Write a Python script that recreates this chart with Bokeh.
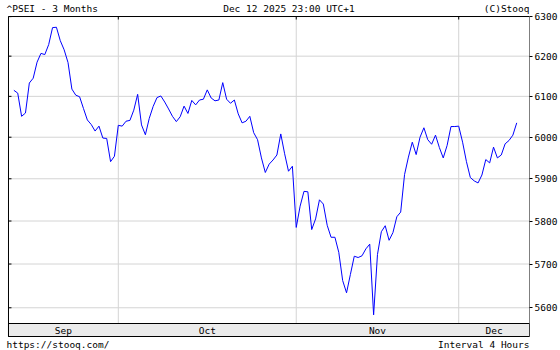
import math
from bokeh.plotting import figure
from bokeh.models import FixedTicker, BasicTickFormatter, Range1d
from bokeh.embed import file_html
from bokeh.resources import INLINE
from bokeh.core.properties import value

# ---- data (4-hour bars, ^PSEI, last 3 months) ----
closes = [
    6115, 6108, 6051, 6059, 6133, 6145, 6185, 6207, 6204, 6229,
    6272, 6273, 6239, 6216, 6184, 6118, 6103, 6099, 6070, 6042,
    6031, 6015, 6027, 5998, 5997, 5941, 5954, 6029, 6027, 6039,
    6041, 6066, 6105, 6030, 6006, 6046, 6075, 6097, 6101, 6086,
    6069, 6051, 6038, 6050, 6076, 6058, 6090, 6079, 6091, 6093,
    6116, 6096, 6089, 6091, 6134, 6093, 6083, 6091, 6057, 6035,
    6039, 6051, 6011, 5994, 5950, 5915, 5935, 5945, 5957, 6008,
    5960, 5918, 5930, 5785, 5835, 5870, 5869, 5780, 5805, 5850,
    5840, 5790, 5762, 5762, 5727, 5662, 5634, 5676, 5718, 5715,
    5719, 5735, 5746, 5584, 5722, 5775, 5789, 5755, 5773, 5810,
    5821, 5910, 5952, 5988, 5958, 6000, 6023, 5994, 5983, 6005,
    5975, 5950, 5980, 6026, 6026, 6027, 5988, 5941, 5903, 5895,
    5890, 5909, 5946, 5938, 5976, 5950, 5957, 5984, 5992, 6005,
    6035,
]
bars = list(range(len(closes)))
month_labels = ["Sep", "Oct", "Nov", "Dec"]
month_starts = [27, 73, 115]          # bar index of the first bar of Oct, Nov, Dec
y_ticks = [5600, 5700, 5800, 5900, 6000, 6100, 6200, 6300]

title_left = "^PSEI - 3 Months"
title_mid = "Dec 12 2025 23:00 UTC+1"
title_right = "(C)Stooq"
foot_left = "https://stooq.com/"
foot_right = "Interval 4 Hours"

# ---- layout constants (pixels) ----
W, H = 560, 350
AXIS_W = 30                      # right axis panel
BOX_L, BOX_R, BOX_T, BOX_B = 8, 530, 16, 336   # chart box incl. month band
BAND_H = 13

# data values at the chart box edges
X0, X1 = -1.39, 133.3
Y_TOP = 6300.3
Y_BAND_BOTTOM = 5535.3

sx = (BOX_R - BOX_L) / (X1 - X0)
ky = (BOX_B - BOX_T) / math.log(Y_TOP / Y_BAND_BOTTOM)

def xd(px):
    return X0 + (px - BOX_L) / sx

def yd(py):
    return Y_TOP * math.exp(-(py - BOX_T) / ky)

Y_PLOT_BOTTOM = yd(BOX_B - BAND_H)

FONT = "DejaVu Sans Mono"
FS = "9.5px"

p = figure(width=W, height=H, output_backend="svg", toolbar_location=None,
           x_range=Range1d(xd(0), xd(W - AXIS_W)), y_range=Range1d(yd(H), yd(0)),
           x_axis_type=None, y_axis_type="log", y_axis_location="right",
           min_border_left=0, min_border_right=AXIS_W, min_border_top=0, min_border_bottom=0)
p.background_fill_color = "white"
p.border_fill_color = "white"
p.outline_line_color = None
p.grid.visible = False

# right axis
ax = p.yaxis[0]
ax.ticker = FixedTicker(ticks=y_ticks)
ax.formatter = BasicTickFormatter(use_scientific=False)
ax.axis_line_color = None
ax.major_tick_out = 3
ax.major_tick_in = 0
ax.minor_tick_line_color = None
ax.major_tick_line_color = "black"
ax.major_label_standoff = 2
ax.major_label_text_font = FONT
ax.major_label_text_font_size = FS
ax.major_label_text_color = "black"

GRID = "#d4d4d4"
n_y, n_m = len(y_ticks), len(month_starts)
# horizontal grid lines at the price ticks
p.segment(x0=[X0] * n_y, y0=y_ticks, x1=[X1] * n_y, y1=y_ticks, line_color=GRID, line_width=1)
# vertical grid lines at month starts
p.segment(x0=month_starts, y0=[Y_PLOT_BOTTOM] * n_m, x1=month_starts, y1=[Y_TOP] * n_m,
          line_color=GRID, line_width=1)

# price line
p.line(bars, closes, line_color="#0000ff", line_width=1)

# month band
p.quad(left=[X0], right=[X1], bottom=[Y_BAND_BOTTOM], top=[Y_PLOT_BOTTOM],
       fill_color="#ebebeb", line_color="black", line_width=1)
bounds = [X0] + month_starts + [X1]
mids = [(bounds[i] + bounds[i + 1]) / 2 for i in range(len(month_labels))]
band_mid = yd(BOX_B - BAND_H / 2)
p.text(x=mids, y=[band_mid] * len(mids), text=month_labels,
       text_align="center", text_baseline="middle",
       text_font=value(FONT), text_font_size=value(FS), text_color="black")

# chart box
p.quad(left=[X0], right=[X1], bottom=[Y_BAND_BOTTOM], top=[Y_TOP],
       fill_color=None, line_color="black", line_width=1)

# small inward ticks on the left edge and the top edge (3 px)
p.segment(x0=[X0] * n_y, y0=y_ticks, x1=[xd(BOX_L + 3)] * n_y, y1=y_ticks,
          line_color="black", line_width=1)
p.segment(x0=month_starts, y0=[Y_TOP] * n_m, x1=month_starts, y1=[yd(BOX_T + 3)] * n_m,
          line_color="black", line_width=1)

# header / footer texts
def txt(px, py, t, align):
    p.text(x=[xd(px)], y=[yd(py)], text=[t], text_align=align, text_baseline="middle",
           text_font=value(FONT), text_font_size=value(FS), text_color="black")

txt(6, 8, title_left, "left")
txt(289, 8, title_mid, "center")
txt(530, 8, title_right, "right")
txt(6, 344, foot_left, "left")
txt(530, 344, foot_right, "right")

open("out.html", "w").write(file_html(p, INLINE))
